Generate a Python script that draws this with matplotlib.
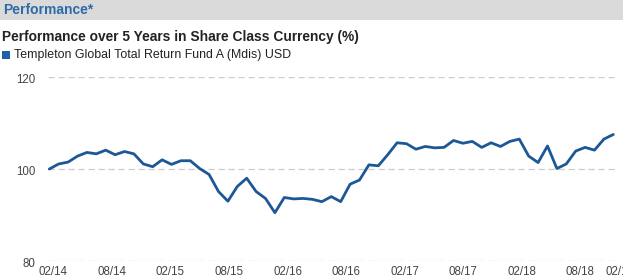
import matplotlib
matplotlib.use('Agg')
import matplotlib.pyplot as plt
from matplotlib.patches import Rectangle
from matplotlib.transforms import ScaledTranslation

plt.rcParams['font.family'] = ['Liberation Sans', 'DejaVu Sans']

# ---- data (monthly index values, 02/2014 .. 02/2019) ----
values = [100.0, 101.1, 101.5, 102.8, 103.6, 103.3, 104.1, 103.1, 103.8, 103.3,
          101.1, 100.5, 102.0, 101.0, 101.8, 101.8, 100.1, 98.8, 95.1, 93.0,
          96.2, 98.0, 95.1, 93.6, 90.5, 93.8, 93.5, 93.6, 93.4, 92.9,
          94.0, 92.9, 96.7, 97.6, 100.9, 100.7, 103.1, 105.7, 105.5, 104.3,
          104.9, 104.6, 104.7, 106.2, 105.6, 106.0, 104.7, 105.7, 104.9, 106.0,
          106.5, 102.8, 101.4, 105.0, 100.1, 101.1, 103.9, 104.7, 104.1, 106.5, 107.5]
x_labels = ['02/14', '08/14', '02/15', '08/15', '02/16', '08/16',
            '02/17', '08/17', '02/18', '08/18', '02/19']
y_ticks = [80, 100, 120]
series_name = 'Templeton Global Total Return Fund A (Mdis) USD'
header = 'Performance*'
subtitle = 'Performance over 5 Years in Share Class Currency (%)'

W, H, DPI = 623, 278, 100
fig = plt.figure(figsize=(W / DPI, H / DPI), dpi=DPI)

# header band
fig.patches.append(Rectangle((0, 1 - 20 / H), 1, 20 / H, transform=fig.transFigure,
                             facecolor='#dadada', edgecolor='none', zorder=0))
fig.text(3 / W, 1 - 10.5 / H, header, fontsize=10.0, fontweight='bold',
         color='#2d6aa8', va='center', ha='left')
fig.text(2 / W, 1 - 36.5 / H, subtitle, fontsize=9.9, fontweight='bold',
         color='#222222', va='center', ha='left')
# legend
fig.patches.append(Rectangle((2 / W, 1 - 59 / H), 8 / W, 8 / H, transform=fig.transFigure,
                             facecolor='#1f5fa6', edgecolor='none'))
fig.text(14 / W, 1 - 55 / H, series_name, fontsize=8.9, color='#222222',
         va='center', ha='left')

# axes geometry
px_per = 9.40
x0_px = 49.3
xmin, xmax = -0.1, 61.6
left_px = x0_px + xmin * px_per
right_px = x0_px + xmax * px_per
top_px, bot_px = 77, 261
ax = fig.add_axes([left_px / W, 1 - bot_px / H, (right_px - left_px) / W, (bot_px - top_px) / H])
ax.set_xlim(xmin, xmax)
ax.set_ylim(80, 120)
for s in ax.spines.values():
    s.set_visible(False)
ax.patch.set_alpha(0)

grid_end = (x0_px + 60.2 * px_per - left_px) / (right_px - left_px)
for y in y_ticks:
    ax.axhline(y, xmin=0, xmax=grid_end, color='#cccccc', lw=0.9,
               linestyle=(0, (5, 3)), zorder=1)

ax.plot(range(len(values)), values, color='#1d5896', lw=2.0, zorder=3,
        solid_joinstyle='round', solid_capstyle='round')

ax.set_yticks(y_ticks)
ax.set_yticklabels([str(v) for v in y_ticks])
tick_step = 6.23
xpos = [0.43 + tick_step * k for k in range(len(x_labels) - 1)] + [60.7]
ax.set_xticks(xpos)
ax.set_xticklabels(x_labels)
ax.tick_params(axis='both', length=0, labelsize=8.3, labelcolor='#444444')
ax.tick_params(axis='y', pad=9)
ax.tick_params(axis='x', pad=3.3)
off = ScaledTranslation(0, -2 / DPI, fig.dpi_scale_trans)
for lab in ax.get_yticklabels():
    lab.set_transform(lab.get_transform() + off)

fig.savefig('out.png', dpi=DPI)
